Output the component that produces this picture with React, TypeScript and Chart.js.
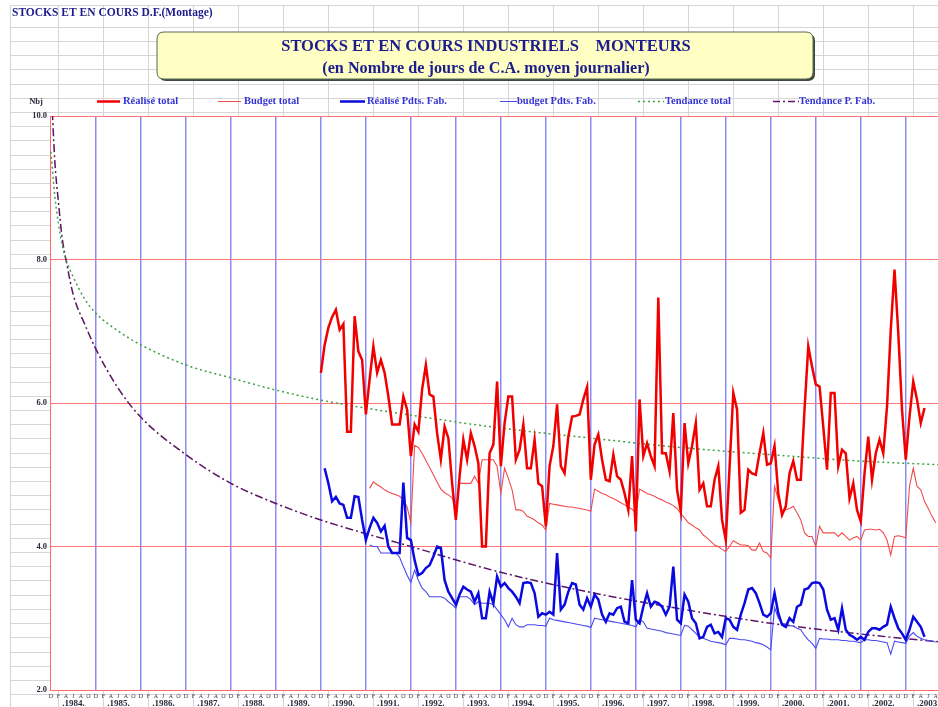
import { useEffect, useRef } from 'react';
import { Chart, registerables } from 'chart.js';

Chart.register(...registerables);

// x unit: months after December 1983 (Dec 1983 = 0, Dec 1984 = 12, ...)
const X_MIN = -0.25;
const X_MAX = 236.6;
const years = ['1984', '1985', '1986', '1987', '1988', '1989', '1990', '1991', '1992', '1993', '1994', '1995', '1996', '1997', '1998', '1999', '2000', '2001', '2002', '2003'];
const monthLetters = ['D', 'F', 'A', 'J', 'A', 'O'];
const yTickValues = [2, 4, 6, 8, 10];
const yTickLabels = ['2.0', '4.0', '6.0', '8.0', '10.0'];

// Réalisé total : monthly, first value = Dec 1989
const realiseTotalStart = 72;
const realiseTotal = [
  6.42, 6.81, 7.05, 7.2, 7.3, 7.02, 7.1, 5.6, 5.6, 7.21, 6.72, 6.6,
  5.84, 6.33, 6.79, 6.42, 6.6, 6.42, 6.09, 5.7, 5.7, 5.7, 6.09, 5.91,
  5.26, 5.7, 5.6, 6.19, 6.53, 6.12, 6.09, 5.58, 5.21, 5.67, 5.51, 4.88,
  4.37, 4.98, 5.49, 5.21, 5.58, 5.4, 5.16, 4.0, 4.0, 5.3, 5.42, 6.3,
  5.12, 5.72, 6.09, 6.09, 5.21, 5.35, 5.7, 5.09, 5.09, 5.49, 4.88, 4.84,
  4.28, 5.12, 5.4, 5.98, 5.12, 5.02, 5.53, 5.81, 5.82, 5.84, 6.05, 6.22,
  4.93, 5.42, 5.56, 5.21, 4.93, 4.91, 5.28, 4.98, 4.93, 4.74, 4.51, 5.26,
  4.21, 6.05, 5.26, 5.44, 5.26, 5.12, 7.47, 5.3, 5.3, 5.05, 5.86, 4.79,
  4.49, 5.72, 5.16, 5.4, 5.72, 4.79, 4.88, 4.56, 4.56, 4.93, 5.12, 4.37,
  4.09, 5.1, 6.14, 5.91, 4.47, 4.51, 5.07, 5.02, 5.0, 5.3, 5.58, 5.14,
  5.16, 5.4, 4.74, 4.44, 4.56, 5.02, 5.19, 4.93, 4.93, 5.91, 6.79, 6.51,
  6.26, 6.23, 5.67, 5.07, 6.14, 6.14, 5.12, 5.35, 5.3, 4.67, 4.88, 4.51,
  4.35, 5.02, 5.53, 4.93, 5.3, 5.49, 5.3, 5.95, 7.02, 7.86, 6.98, 5.91,
  5.21, 5.81, 6.3, 6.05, 5.72, 5.93,
];

// Budget total : monthly, first value = Jan 1991
const budgetTotalStart = 85;
const budgetTotal = [
  4.81, 4.9, 4.86, 4.83, 4.79, 4.76, 4.74, 4.72, 4.7, 4.65, 4.55, 4.33,
  5.41, 5.38, 5.3, 5.2, 5.1, 5.0, 4.9, 4.8, 4.75, 4.72, 4.68, 4.51,
  4.88, 4.88, 4.88, 4.88, 4.98, 4.88, 5.21, 5.21, 5.21, 5.21, 5.12, 4.74,
  5.09, 4.95, 4.79, 4.51, 4.51, 4.49, 4.42, 4.4, 4.37, 4.33, 4.3, 4.23,
  4.6, 4.59, 4.58, 4.57, 4.56, 4.55, 4.55, 4.54, 4.53, 4.52, 4.51, 4.49,
  4.8, 4.77, 4.74, 4.72, 4.69, 4.67, 4.64, 4.61, 4.58, 4.55, 4.52, 4.46,
  4.8, 4.77, 4.74, 4.72, 4.7, 4.67, 4.65, 4.62, 4.6, 4.57, 4.53, 4.46,
  4.4, 4.33, 4.3, 4.26, 4.23, 4.16, 4.12, 4.07, 4.02, 4.0, 3.96, 3.93,
  4.0, 4.08, 4.05, 4.02, 4.02, 4.01, 3.95, 3.95, 4.05, 3.93, 3.91, 3.84,
  4.84, 4.65, 4.47, 4.51, 4.53, 4.56, 4.47, 4.37, 4.19, 4.14, 4.14, 4.0,
  4.28, 4.19, 4.19, 4.19, 4.19, 4.14, 4.19, 4.14, 4.09, 4.12, 4.14, 4.09,
  4.23, 4.24, 4.24, 4.23, 4.24, 4.19, 4.09, 3.88, 4.14, 4.15, 4.14, 4.12,
  4.84, 5.09, 4.84, 4.79, 4.63, 4.53, 4.42, 4.33,
];

// Réalisé Pdts. Fab. : monthly, first value = Jan 1990
const realisePFStart = 73;
const realisePF = [
  5.09, 4.88, 4.63, 4.69, 4.6, 4.58, 4.4, 4.4, 4.7, 4.69, 4.37, 4.09,
  4.26, 4.4, 4.33, 4.21, 4.29, 4.0, 3.91, 3.91, 3.91, 4.89, 4.12, 4.09,
  3.81, 3.6, 3.63, 3.7, 3.74, 3.86, 4.0, 3.98, 3.53, 3.37, 3.28, 3.19,
  3.33, 3.44, 3.4, 3.37, 3.23, 3.35, 3.0, 3.0, 3.37, 3.21, 3.58, 3.44,
  3.49, 3.42, 3.37, 3.3, 3.21, 3.49, 3.5, 3.49, 3.35, 3.02, 3.07, 3.05,
  3.09, 3.05, 3.91, 3.12, 3.19, 3.37, 3.49, 3.47, 3.19, 3.12, 3.28, 3.16,
  3.33, 3.26, 3.05, 2.95, 3.07, 3.05, 3.14, 3.16, 2.95, 2.93, 3.53, 2.98,
  2.93, 3.16, 3.35, 3.16, 3.23, 3.21, 3.16, 3.05, 3.16, 3.72, 2.98, 2.93,
  3.33, 3.23, 3.0, 2.93, 2.72, 2.74, 2.88, 2.91, 2.79, 2.81, 2.74, 3.0,
  2.98, 2.88, 2.84, 3.05, 3.21, 3.4, 3.42, 3.35, 3.21, 3.05, 3.02, 3.07,
  3.35, 3.07, 2.91, 2.88, 3.0, 2.95, 3.16, 3.19, 3.4, 3.42, 3.49, 3.5,
  3.49, 3.4, 3.12, 2.98, 3.0, 2.84, 3.14, 2.84, 2.77, 2.74, 2.7, 2.74,
  2.7, 2.81, 2.86, 2.86, 2.84, 2.88, 2.91, 3.16, 3.0, 2.86, 2.79, 2.7,
  2.84, 3.02, 2.95, 2.88, 2.74,
];

// budget Pdts. Fab. : monthly, first value = Jan 1991
const budgetPFStart = 85;
const budgetPF = [
  4.02, 4.0, 4.0, 3.91, 3.91, 3.91, 3.91, 3.91, 3.85, 3.72, 3.6, 3.5,
  3.67, 3.53, 3.42, 3.37, 3.3, 3.3, 3.3, 3.3, 3.28, 3.23, 3.19, 3.14,
  3.3, 3.3, 3.3, 3.26, 3.19, 3.23, 3.21, 3.21, 3.21, 3.19, 3.12, 3.05,
  2.98, 2.88, 3.0, 2.91, 2.88, 2.88, 2.91, 2.91, 2.91, 2.9, 2.9, 2.89,
  3.0, 2.98, 2.97, 2.96, 2.95, 2.94, 2.93, 2.92, 2.91, 2.9, 2.89, 2.87,
  3.0, 2.99, 2.98, 2.97, 2.96, 2.95, 2.94, 2.93, 2.92, 2.91, 2.9, 2.88,
  2.98, 2.95, 2.86, 2.85, 2.84, 2.83, 2.82, 2.8, 2.79, 2.78, 2.77, 2.76,
  2.9, 2.89, 2.84, 2.79, 2.74, 2.72, 2.7, 2.68, 2.67, 2.66, 2.65, 2.63,
  2.72, 2.72, 2.71, 2.7, 2.7, 2.69, 2.68, 2.66, 2.65, 2.63, 2.6, 2.56,
  3.15, 3.0, 2.93, 2.92, 2.9, 2.89, 2.86, 2.84, 2.76, 2.7, 2.65, 2.58,
  2.72, 2.71, 2.71, 2.7, 2.7, 2.7, 2.69, 2.69, 2.68, 2.68, 2.67, 2.66,
  2.7, 2.7, 2.69, 2.69, 2.68, 2.67, 2.66, 2.5, 2.68, 2.67, 2.66, 2.65,
  2.75, 2.8, 2.75, 2.72, 2.7, 2.69, 2.68, 2.67,
];

// Trend curves read at selected months
const trendMonths = [0, 1, 2, 3, 4, 6, 9, 12, 18, 24, 36, 48, 60, 72, 96, 120, 144, 168, 192, 216, 237];
const trendTotal = [9.5, 8.9, 8.5, 8.2, 8.0, 7.75, 7.45, 7.25, 7.0, 6.81, 6.53, 6.35, 6.18, 6.04, 5.83, 5.65, 5.51, 5.38, 5.28, 5.19, 5.14];
const trendPF = [10.5, 9.4, 8.8, 8.3, 8.0, 7.5, 7.1, 6.75, 6.2, 5.8, 5.28, 4.88, 4.6, 4.37, 4.0, 3.64, 3.36, 3.13, 2.93, 2.78, 2.67];

const toPoints = (start: number, vals: number[]) => vals.map((v, i) => ({ x: start + i, y: v }));

const SERIF = '"Liberation Serif", "DejaVu Serif", serif';
const NAVY = '#1c1c8c';
const LEG_BLUE = '#3434d4';

const COL_REAL_TOT = '#f20000';
const COL_BUD_TOT = '#f04c4c';
const COL_REAL_PF = '#0a0ae0';
const COL_BUD_PF = '#4a4af0';
const COL_TR_TOT = '#3f9f3f';
const COL_TR_PF = '#5a1462';

const legendItems = [
  { label: 'Réalisé total', color: COL_REAL_TOT, width: 2.5, dash: [] as number[], x0: 97, x1: 120, tx: 123 },
  { label: 'Budget total', color: COL_BUD_TOT, width: 1, dash: [] as number[], x0: 218, x1: 241, tx: 244 },
  { label: 'Réalisé Pdts. Fab.', color: COL_REAL_PF, width: 2.5, dash: [] as number[], x0: 340, x1: 365, tx: 367 },
  { label: 'budget Pdts. Fab.', color: COL_BUD_PF, width: 1, dash: [] as number[], x0: 500, x1: 517, tx: 517 },
  { label: 'Tendance total', color: COL_TR_TOT, width: 1.5, dash: [2, 3], x0: 638, x1: 664, tx: 665 },
  { label: 'Tendance P. Fab.', color: COL_TR_PF, width: 1.5, dash: [7, 3, 2, 3], x0: 773, x1: 799, tx: 799 },
];

const decorPlugin = {
  id: 'decor',
  beforeDraw(chart: any) {
    const { ctx, chartArea: a, width, height } = chart;
    ctx.save();
    ctx.fillStyle = '#ffffff';
    ctx.fillRect(0, 0, width, height);
    // spreadsheet cell grid
    ctx.strokeStyle = '#d6d6d6';
    ctx.lineWidth = 1;
    ctx.beginPath();
    ctx.moveTo(10, 5.5);
    ctx.lineTo(width, 5.5);
    for (let y = 26.7; y < height; y += 14.2) {
      ctx.moveTo(10, Math.round(y) + 0.5);
      ctx.lineTo(width, Math.round(y) + 0.5);
    }
    ctx.moveTo(10.5, 5);
    ctx.lineTo(10.5, height);
    for (let x = 58; x < width; x += 45) {
      ctx.moveTo(x + 0.5, 5);
      ctx.lineTo(x + 0.5, height);
    }
    ctx.stroke();
    // plot area background
    ctx.fillStyle = '#ffffff';
    ctx.fillRect(a.left, a.top, a.right - a.left, a.bottom - a.top);
    ctx.restore();
  },
  afterDraw(chart: any) {
    const { ctx, chartArea: a, scales } = chart;
    const xs = scales.x;
    const ys = scales.y;
    ctx.save();

    // top-left sheet label
    ctx.fillStyle = NAVY;
    ctx.font = `bold 11.5px ${SERIF}`;
    ctx.textAlign = 'left';
    ctx.textBaseline = 'middle';
    ctx.fillText('STOCKS ET EN COURS D.F.(Montage)', 12, 13.5);

    // title box
    const bx = 157, by = 32, bw = 656, bh = 47, r = 7;
    const rr = (x: number, y: number) => {
      ctx.beginPath();
      ctx.moveTo(x + r, y);
      ctx.lineTo(x + bw - r, y);
      ctx.quadraticCurveTo(x + bw, y, x + bw, y + r);
      ctx.lineTo(x + bw, y + bh - r);
      ctx.quadraticCurveTo(x + bw, y + bh, x + bw - r, y + bh);
      ctx.lineTo(x + r, y + bh);
      ctx.quadraticCurveTo(x, y + bh, x, y + bh - r);
      ctx.lineTo(x, y + r);
      ctx.quadraticCurveTo(x, y, x + r, y);
      ctx.closePath();
    };
    rr(bx + 2, by + 2);
    ctx.fillStyle = '#3c4a3c';
    ctx.fill();
    rr(bx, by);
    ctx.fillStyle = '#ffffc4';
    ctx.fill();
    ctx.strokeStyle = '#5a6a5a';
    ctx.lineWidth = 1;
    ctx.stroke();
    ctx.fillStyle = NAVY;
    ctx.textAlign = 'center';
    ctx.font = `bold 16.5px ${SERIF}`;
    ctx.fillText('STOCKS ET EN COURS INDUSTRIELS    MONTEURS', 486, 47);
    ctx.font = `bold 16.2px ${SERIF}`;
    ctx.fillText('(en Nombre de jours de C.A. moyen journalier)', 486, 69);

    // legend
    ctx.textAlign = 'left';
    ctx.font = `bold 10.5px ${SERIF}`;
    for (const it of legendItems) {
      ctx.beginPath();
      ctx.strokeStyle = it.color;
      ctx.lineWidth = it.width;
      ctx.setLineDash(it.dash);
      ctx.moveTo(it.x0, 101.5);
      ctx.lineTo(it.x1, 101.5);
      ctx.stroke();
      ctx.setLineDash([]);
      ctx.fillStyle = LEG_BLUE;
      ctx.fillText(it.label, it.tx, 101.5);
    }

    // y labels
    ctx.fillStyle = '#2a2a3a';
    ctx.font = `bold 8.5px ${SERIF}`;
    ctx.textAlign = 'right';
    yTickValues.forEach((v, i) => {
      ctx.fillText(yTickLabels[i], a.left - 3, ys.getPixelForValue(v));
    });
    ctx.textAlign = 'center';
    ctx.fillText('Nbj', 36, 102);

    // x labels: month letters every two months, year labels
    ctx.font = `6px ${SERIF}`;
    ctx.fillStyle = '#3a3a4a';
    for (let m = 0; m <= 236; m += 2) {
      ctx.fillText(monthLetters[(m / 2) % 6], xs.getPixelForValue(m), 696.5);
    }
    ctx.font = `bold 9px ${SERIF}`;
    ctx.fillStyle = '#2a2a3a';
    years.forEach((yr, i) => {
      ctx.fillText('.' + yr + '.', xs.getPixelForValue(i * 12 + 6), 704);
    });
    ctx.restore();
  },
};

export default function App() {
  const ref = useRef<HTMLCanvasElement | null>(null);
  useEffect(() => {
    if (!ref.current) return;
    const chart = new Chart(ref.current, {
      type: 'line',
      data: {
        datasets: [
          { label: 'Réalisé total', data: toPoints(realiseTotalStart, realiseTotal), borderColor: COL_REAL_TOT, borderWidth: 2.5, pointRadius: 0, tension: 0 },
          { label: 'Réalisé Pdts. Fab.', data: toPoints(realisePFStart, realisePF), borderColor: COL_REAL_PF, borderWidth: 2.5, pointRadius: 0, tension: 0 },
          { label: 'Budget total', data: toPoints(budgetTotalStart, budgetTotal), borderColor: COL_BUD_TOT, borderWidth: 1.1, pointRadius: 0, tension: 0 },
          { label: 'budget Pdts. Fab.', data: toPoints(budgetPFStart, budgetPF), borderColor: COL_BUD_PF, borderWidth: 1.1, pointRadius: 0, tension: 0 },
          { label: 'Tendance total', data: trendMonths.map((m, i) => ({ x: m, y: trendTotal[i] })), borderColor: COL_TR_TOT, borderWidth: 1.5, borderDash: [2, 3], pointRadius: 0, cubicInterpolationMode: 'monotone' },
          { label: 'Tendance P. Fab.', data: trendMonths.map((m, i) => ({ x: m, y: trendPF[i] })), borderColor: COL_TR_PF, borderWidth: 1.5, borderDash: [8, 3, 2, 3], pointRadius: 0, cubicInterpolationMode: 'monotone' },
        ],
      },
      options: {
        animation: false,
        responsive: false,
        devicePixelRatio: 1,
        parsing: false,
        layout: { padding: { left: 50, top: 116, right: 0, bottom: 17 } },
        plugins: { legend: { display: false }, tooltip: { enabled: false }, title: { display: false } },
        scales: {
          x: {
            type: 'linear',
            min: X_MIN,
            max: X_MAX,
            ticks: { display: false, stepSize: 12, includeBounds: false },
            afterBuildTicks: (s: any) => {
              s.ticks = years.map((_, i) => ({ value: i * 12 }));
            },
            grid: {
              drawTicks: false,
              color: (c: any) => (c.tick && c.tick.value === 0 ? 'rgba(0,0,0,0)' : 'rgba(110,110,245,0.8)'),
              lineWidth: 1.5,
            },
            border: { color: '#ff6a6a', width: 1 },
          },
          y: {
            min: 2,
            max: 10,
            ticks: { display: false, stepSize: 2 },
            grid: { drawTicks: false, color: '#ff7474', lineWidth: 1 },
            border: { color: '#ff6a6a', width: 1 },
          },
        },
      },
      plugins: [decorPlugin],
    } as any);
    return () => chart.destroy();
  }, []);
  return (
    <div style={{ position: 'fixed', left: 0, top: 0, width: 938, height: 707, background: '#fff' }}>
      <canvas ref={ref} width={938} height={707} style={{ width: 938, height: 707, display: 'block' }} />
    </div>
  );
}
